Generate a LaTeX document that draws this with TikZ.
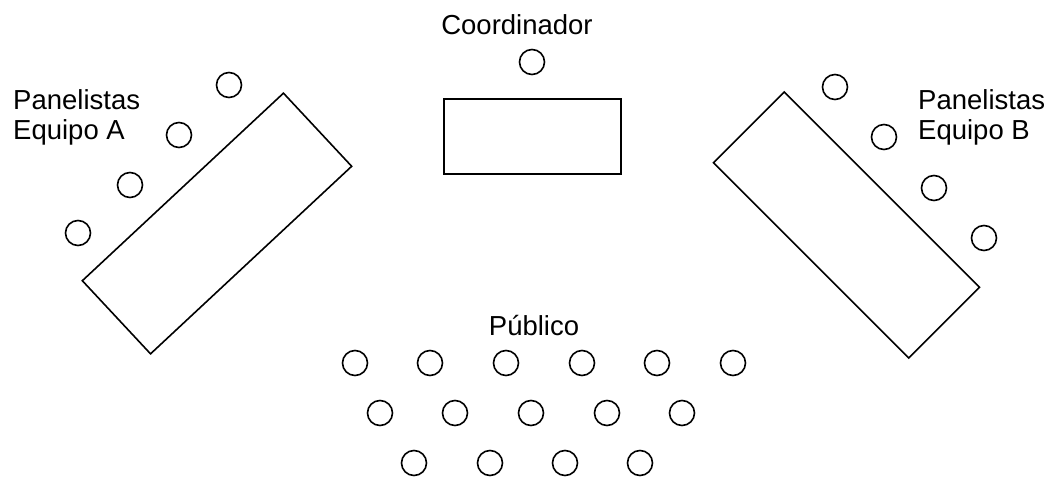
\documentclass[tikz,border=0pt]{standalone}
\usepackage{fontspec}
\setmainfont{Liberation Sans}
\begin{document}
\begin{tikzpicture}[x=1pt,y=-1pt,
  seat/.style={circle,draw,line width=1.6pt,minimum size=25pt,inner sep=0pt},
  tablebox/.style={rectangle,draw,line width=1.6pt,inner sep=0pt},
  lbl/.style={font=\fontsize{27.5}{31}\selectfont,inner sep=0pt}]
\useasboundingbox (0,0) rectangle (1053,480);
% Coordinator
\node[lbl,anchor=base] (tcoord) at (517,34) {Coordinador};
\node[seat] (c0) at (532,62) {};
\node[tablebox,minimum width=177pt,minimum height=75pt] (tc) at (532.5,136.5) {};
% Team A
\node[lbl,anchor=base west] (ta1) at (13,109) {Panelistas};
\node[lbl,anchor=base west] (ta2) at (13,139) {Equipo A};
\node[seat] (a1) at (229,85) {};
\node[seat] (a2) at (179,135) {};
\node[seat] (a3) at (130,185) {};
\node[seat] (a4) at (78,233) {};
\node[tablebox,minimum width=275pt,minimum height=100pt,rotate=43] (ta) at (217,223.5) {};
% Team B
\node[lbl,anchor=base west] (tb1) at (918,109) {Panelistas};
\node[lbl,anchor=base west] (tb2) at (918,139) {Equipo B};
\node[seat] (b1) at (835,87) {};
\node[seat] (b2) at (884,137) {};
\node[seat] (b3) at (934,188) {};
\node[seat] (b4) at (984,238) {};
\node[tablebox,minimum width=276pt,minimum height=100pt,rotate=-45] (tb) at (846.5,225) {};
% Public
\node[lbl,anchor=base] (tp) at (534,335) {Público};
\foreach \x [count=\i] in {355,430,506,582,657,733} \node[seat] (p1\i) at (\x,363) {};
\foreach \x [count=\i] in {380,455,531,607,682} \node[seat] (p2\i) at (\x,413) {};
\foreach \x [count=\i] in {414,490,565,640} \node[seat] (p3\i) at (\x,463) {};
\end{tikzpicture}
\end{document}
